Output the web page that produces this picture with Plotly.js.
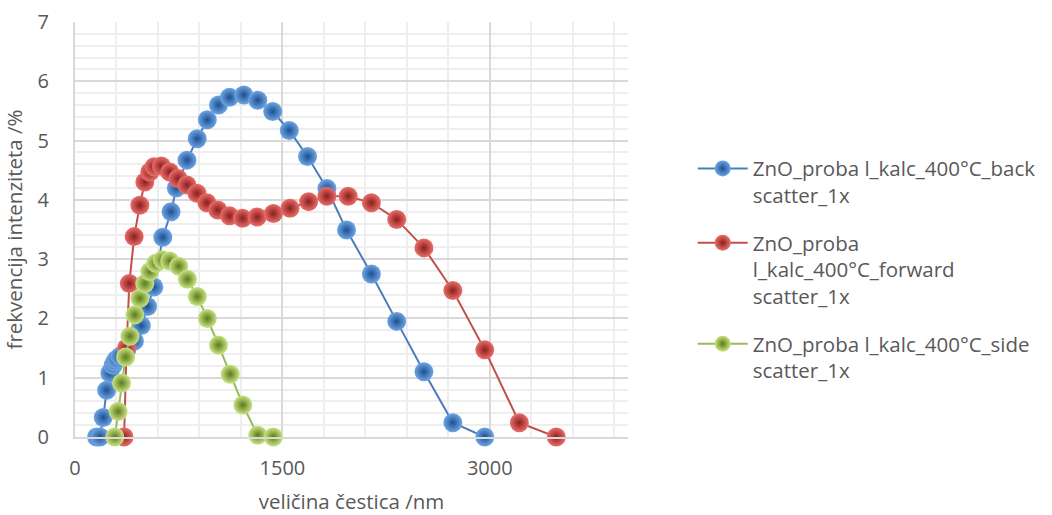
<!DOCTYPE html>
<html>
<head>
<meta charset="utf-8">
<script src="https://cdn.plot.ly/plotly-3.0.1.min.js"></script>
<style>html,body{margin:0;padding:0;background:#fff;}#chart{width:1052px;height:515px;}</style>
</head>
<body>
<div id="chart"></div>
<script>
// particle size (nm) and intensity frequency (%)
const sizeBack = [156, 180, 204, 229, 252, 276, 288, 301, 325, 375, 430, 480, 525, 570, 635, 695, 733, 810, 884, 957, 1038, 1118, 1221, 1322, 1430, 1550, 1682, 1822, 1964, 2144, 2327, 2524, 2733, 2964];
const freqBack = [0, 0, 0.33, 0.79, 1.08, 1.21, 1.27, 1.31, 1.36, 1.47, 1.62, 1.88, 2.2, 2.53, 3.37, 3.8, 4.2, 4.67, 5.03, 5.35, 5.6, 5.73, 5.77, 5.68, 5.49, 5.17, 4.73, 4.19, 3.49, 2.75, 1.95, 1.10, 0.24, 0];

const sizeForward = [355, 373, 393, 428, 469, 505, 541, 572, 625, 685, 745, 810, 882, 954, 1033, 1118, 1212, 1318, 1435, 1555, 1690, 1822, 1976, 2144, 2327, 2524, 2733, 2964, 3214, 3481];
const freqForward = [0, 1.5, 2.59, 3.38, 3.91, 4.30, 4.47, 4.56, 4.57, 4.47, 4.36, 4.25, 4.11, 3.95, 3.83, 3.73, 3.69, 3.71, 3.77, 3.86, 3.97, 4.06, 4.06, 3.95, 3.67, 3.19, 2.47, 1.47, 0.24, 0];

const sizeSide = [288, 312, 337, 366, 397, 433, 469, 505, 541, 584, 632, 685, 750, 813, 885, 957, 1038, 1123, 1214, 1322, 1435];
const freqSide = [0, 0.43, 0.91, 1.35, 1.70, 2.06, 2.34, 2.59, 2.79, 2.93, 2.99, 2.97, 2.88, 2.66, 2.37, 2.00, 1.55, 1.06, 0.54, 0.03, 0];

const seriesNames = [
  'ZnO_proba l_kalc_400°C_back<br>scatter_1x',
  'ZnO_proba<br>l_kalc_400°C_forward<br>scatter_1x',
  'ZnO_proba l_kalc_400°C_side<br>scatter_1x'
];
const xTickVals = [0, 1500, 3000];
const xTickText = ['0', '1500', '3000'];
const xTitle = 'veličina čestica /nm';
const yTitle = 'frekvencija intenziteta /%';

const FONT = 'Open Sans, DejaVu Sans, sans-serif';
const TXT = '#595959';

function trace(x, y, name, group, lineColor, light, dark) {
  return {
    x: x, y: y, name: name, legendgroup: group, type: 'scatter', mode: 'lines+markers',
    cliponaxis: false,
    line: {color: lineColor, width: 2},
    marker: {size: 19, color: light, line: {width: 0},
             gradient: {type: 'radial', color: dark}}
  };
}

const data = [
  trace(sizeBack, freqBack, seriesNames[0], 'g1', '#4a7ebb', '#6fa6e6', '#1d4f8f'),
  trace(sizeForward, freqForward, seriesNames[1], 'g2', '#c0504d', '#ea6e6a', '#8a1f1c'),
  trace(sizeSide, freqSide, seriesNames[2], 'g3', '#9bbb59', '#c9e483', '#5c7a1c')
];

const layout = {
  width: 1052, height: 515,
  margin: {l: 75, r: 423, t: 22, b: 78},
  paper_bgcolor: '#ffffff', plot_bgcolor: '#ffffff',
  font: {family: FONT, color: TXT, size: 20},
  showlegend: true,
  legend: {
    x: 1.115, xanchor: 'left', y: 0.695, yanchor: 'top',
    valign: 'top', font: {family: FONT, size: 20.5, color: TXT},
    traceorder: 'grouped', tracegroupgap: 18, itemwidth: 50, bgcolor: 'rgba(0,0,0,0)'
  },
  xaxis: {
    range: [0, 4000], tickmode: 'array', tickvals: xTickVals, ticktext: xTickText,
    showgrid: true, gridcolor: '#d9d9d9', gridwidth: 2,
    minor: {dtick: 300, tick0: 0, showgrid: true, gridcolor: '#eeeeee', gridwidth: 2},
    showline: true, linecolor: '#d9d9d9', linewidth: 2,
    zeroline: false, ticks: '', ticklabelstandoff: 12,
    tickfont: {family: FONT, size: 20, color: TXT},
    title: {text: xTitle, font: {family: FONT, size: 20.5, color: TXT}, standoff: 16}
  },
  yaxis: {
    range: [0, 7], dtick: 1, tick0: 0,
    showgrid: true, gridcolor: '#d9d9d9', gridwidth: 2,
    minor: {dtick: 0.2, tick0: 0, showgrid: true, gridcolor: '#eeeeee', gridwidth: 2},
    showline: true, linecolor: '#d9d9d9', linewidth: 2,
    zeroline: false, ticks: '', ticklabelstandoff: 20,
    tickfont: {family: FONT, size: 20, color: TXT},
    title: {text: yTitle, font: {family: FONT, size: 20.5, color: TXT}, standoff: 18}
  }
};

Plotly.newPlot('chart', data, layout, {displayModeBar: false, staticPlot: true});
</script>
</body>
</html>
